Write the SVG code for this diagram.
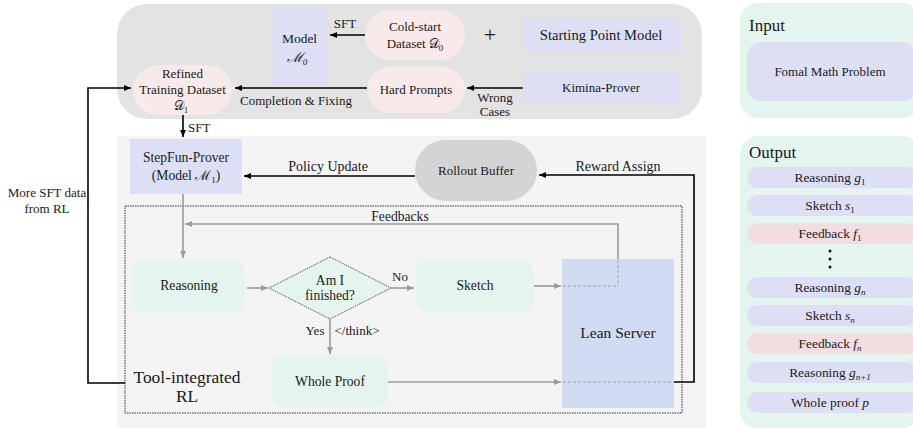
<svg xmlns="http://www.w3.org/2000/svg" width="913" height="428" viewBox="0 0 913 428" font-family="'Liberation Serif', 'Times New Roman', serif" font-size="13">
<style>
text{fill:#1a1a1a}
.c{text-anchor:middle}
.lav{fill:#dde0f4}
.pink{fill:#f8eaea}
.grn{fill:#e3f5ee}
.blk{stroke:#000;stroke-width:1.6;fill:none}
.gry{stroke:#9a9a9a;stroke-width:1.6;fill:none}
.dot{stroke:#aab4c4;stroke-width:1.5;stroke-dasharray:3 2;fill:none}
.fb{fill:#f3dde0}
.it{font-style:italic}
.sub{font-size:9px}
.m{font-size:13.6px}
.o{font-size:13.4px}
</style>
<defs>
<marker id="ab" markerWidth="8" markerHeight="8" refX="7" refY="4" orient="auto" markerUnits="userSpaceOnUse"><path d="M0,1 L7,4 L0,7 Z" fill="#000"/></marker>
<marker id="ag" markerWidth="8" markerHeight="8" refX="7" refY="4" orient="auto" markerUnits="userSpaceOnUse"><path d="M0,1 L7,4 L0,7 Z" fill="#9a9a9a"/></marker>
</defs>

<!-- panels -->
<rect x="117" y="4" width="585" height="115" rx="30" fill="#e3e3e3"/>
<rect x="117" y="136" width="589" height="292" fill="#f4f4f4"/>
<rect x="125" y="206" width="557" height="207" fill="none" stroke="#333" stroke-width="1" stroke-dasharray="1.5 1"/>

<g id="model0"><rect class="lav" x="271" y="7" width="57" height="78"/>
<text class="c" x="299.5" y="43" font-size="13.5">Model</text>
<text class="c it" x="297" y="62" font-size="14">ℳ<tspan class="sub" dy="3">0</tspan></text></g>

<g id="coldstart"><rect class="pink" x="365" y="10" width="100" height="50" rx="25"/>
<text class="c" x="415" y="31">Cold-start</text>
<text class="c" x="415" y="48">Dataset 𝒟<tspan class="sub" dy="3">0</tspan></text></g>

<text x="490" y="42" class="c" font-size="22">+</text>

<g id="startmodel"><rect class="lav" x="523" y="19" width="156" height="32"/>
<text class="c" x="601" y="40" font-size="14.6">Starting Point Model</text></g>

<g id="hardprompts"><rect class="pink" x="367" y="67" width="98" height="46" rx="23"/>
<text class="c" x="416" y="94">Hard Prompts</text></g>

<g id="kimina"><rect class="lav" x="523" y="72" width="156" height="31"/>
<text class="c" x="601" y="92">Kimina-Prover</text></g>

<g id="refined"><rect class="pink" x="133" y="65" width="99" height="50" rx="25"/>
<text class="c" x="182.5" y="78">Refined</text>
<text class="c" x="182.5" y="94">Training Dataset</text>
<text class="c" x="181" y="110">𝒟<tspan class="sub" dy="3">1</tspan></text></g>

<g id="stepfun"><rect class="lav" x="130" y="139" width="112" height="55"/>
<text class="c m" x="186" y="162">StepFun-Prover</text>
<text class="c m" x="186" y="180">(Model ℳ<tspan class="sub" dy="3">1</tspan><tspan dy="-3">)</tspan></text></g>

<g id="rollout"><rect x="415" y="140" width="122" height="61" rx="30.5" fill="#d4d4d4"/>
<text class="c" x="476" y="175">Rollout Buffer</text></g>

<g id="reasoning"><rect class="grn" x="133" y="260" width="112" height="53" rx="12"/>
<text class="c m" x="189" y="290">Reasoning</text></g>

<g id="decision"><polygon points="330,257 391,288 330,319 269,288" fill="#e3f5ee" stroke="#444" stroke-width="0.9" stroke-dasharray="1.5 1"/>
<text class="c m" x="330" y="285">Am I</text>
<text class="c m" x="330" y="300">finished?</text></g>

<g id="sketch"><rect class="grn" x="416" y="260" width="118" height="53" rx="12"/>
<text class="c m" x="475" y="290">Sketch</text></g>

<g id="wholeproof"><rect class="grn" x="272" y="355" width="116" height="52" rx="12"/>
<text class="c m" x="330" y="386">Whole Proof</text></g>

<g id="lean"><rect x="562" y="259" width="112" height="149" fill="#cfdcf2"/>
<text class="c" x="618" y="338" font-size="15.5">Lean Server</text></g>

<text class="c" x="187" y="383" font-size="17.4">Tool-integrated</text>
<text class="c" x="187" y="402" font-size="17.4">RL</text>

<g id="connectors">
<line class="blk" x1="365" y1="35" x2="330" y2="35" marker-end="url(#ab)"/>
<text x="345" y="28" class="c">SFT</text>
<line class="blk" x1="523" y1="88" x2="467" y2="88" marker-end="url(#ab)"/>
<text x="495" y="102" class="c">Wrong</text>
<text x="495" y="116" class="c">Cases</text>
<line class="blk" x1="367" y1="88" x2="235" y2="88" marker-end="url(#ab)"/>
<text x="296" y="105" class="c">Completion &amp; Fixing</text>
<line class="blk" x1="183" y1="115" x2="183" y2="137" marker-end="url(#ab)"/>
<text x="188" y="132">SFT</text>
<polyline class="blk" points="125,383 88,383 88,88 131,88" marker-end="url(#ab)"/>
<text x="47" y="197" class="c">More SFT data</text>
<text x="47" y="213" class="c">from RL</text>
<line class="blk" x1="415" y1="176" x2="244" y2="176" marker-end="url(#ab)"/>
<text x="328" y="171" class="c" font-size="14">Policy Update</text>
<polyline class="blk" points="674,382 694,382 694,175 539,175" marker-end="url(#ab)"/>
<text x="618" y="171" class="c" font-size="14">Reward Assign</text>
<line class="gry" x1="183" y1="194" x2="183" y2="258" marker-end="url(#ag)"/>
<polyline class="gry" points="618,259 618,224 185,224" marker-end="url(#ag)"/>
<text x="400" y="221" class="c m">Feedbacks</text>
<line class="dot" x1="618" y1="260" x2="618" y2="286"/>
<line class="gry" x1="247" y1="288" x2="268" y2="288" marker-end="url(#ag)"/>
<line class="gry" x1="391" y1="288" x2="414" y2="288" marker-end="url(#ag)"/>
<text x="400" y="281" class="c">No</text>
<line class="gry" x1="534" y1="286" x2="561" y2="286" marker-end="url(#ag)"/>
<line class="dot" x1="563" y1="286" x2="618" y2="286"/>
<line class="gry" x1="330" y1="319" x2="330" y2="354" marker-end="url(#ag)"/>
<text x="315" y="335" class="c">Yes</text>
<text x="357" y="335" class="c">&lt;/think&gt;</text>
<line class="gry" x1="388" y1="382" x2="561" y2="382" marker-end="url(#ag)"/>
<line class="dot" x1="563" y1="382" x2="674" y2="382"/>
</g>

<g id="input"><rect class="grn" x="740" y="3" width="180" height="115" rx="18"/>
<text x="749" y="31" font-size="17">Input</text>
<rect class="lav" x="747" y="42" width="170" height="59" rx="14"/>
<text class="c" x="830" y="76">Fomal Math Problem</text></g>

<g id="output"><rect class="grn" x="740" y="136" width="180" height="292" rx="18"/>
<text x="749" y="158" font-size="17">Output</text>
<rect class="lav" x="747" y="167" width="170" height="21" rx="10.5"/>
<text class="c o" x="830" y="182">Reasoning <tspan class="it">g</tspan><tspan class="sub" dy="3">1</tspan></text>
<rect class="lav" x="747" y="195" width="170" height="21" rx="10.5"/>
<text class="c o" x="830" y="210">Sketch <tspan class="it">s</tspan><tspan class="sub" dy="3">1</tspan></text>
<rect class="fb" x="747" y="223" width="170" height="21" rx="10.5"/>
<text class="c o" x="830" y="238">Feedback <tspan class="it">f</tspan><tspan class="sub" dy="3">1</tspan></text>
<circle cx="830" cy="251" r="1.5" fill="#111"/>
<circle cx="830" cy="259" r="1.5" fill="#111"/>
<circle cx="830" cy="267" r="1.5" fill="#111"/>
<rect class="lav" x="747" y="277" width="170" height="21" rx="10.5"/>
<text class="c o" x="830" y="292">Reasoning <tspan class="it">g</tspan><tspan class="it sub" dy="3">n</tspan></text>
<rect class="lav" x="747" y="305" width="170" height="21" rx="10.5"/>
<text class="c o" x="830" y="320">Sketch <tspan class="it">s</tspan><tspan class="it sub" dy="3">n</tspan></text>
<rect class="fb" x="747" y="333" width="170" height="21" rx="10.5"/>
<text class="c o" x="830" y="348">Feedback <tspan class="it">f</tspan><tspan class="it sub" dy="3">n</tspan></text>
<rect class="lav" x="747" y="362" width="170" height="21" rx="10.5"/>
<text class="c o" x="830" y="377">Reasoning <tspan class="it">g</tspan><tspan class="it sub" dy="3">n+1</tspan></text>
<rect class="lav" x="747" y="392" width="170" height="21" rx="10.5"/>
<text class="c o" x="830" y="407">Whole proof <tspan class="it">p</tspan></text></g>
</svg>
